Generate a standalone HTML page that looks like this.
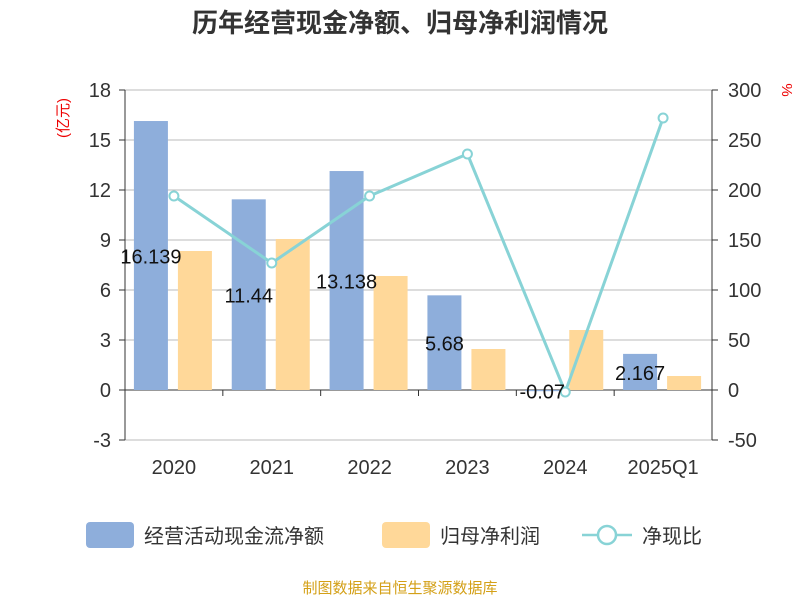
<!DOCTYPE html>
<html><head><meta charset="utf-8"><style>
body{margin:0;background:#fff;}
svg text{font-family:"Liberation Sans","Noto Sans CJK SC",sans-serif;}
</style></head><body>
<svg id="c" width="800" height="600" xmlns="http://www.w3.org/2000/svg">
<text x="400" y="32" text-anchor="middle" font-size="26" font-weight="bold" fill="#333">历年经营现金净额、归母净利润情况</text>
<text transform="translate(68,118) rotate(-90)" text-anchor="middle" font-size="15" fill="#e00">(亿元)</text>
<text transform="translate(782,90) rotate(90)" text-anchor="middle" font-size="15" fill="#e00">%</text>
<g id="grid"></g><g id="bars"></g><g id="line"></g><g id="labels"></g>
<g>
<rect x="86" y="522" width="48" height="26" rx="4" fill="#8eaedb"/>
<text x="144" y="543" font-size="20" fill="#333">经营活动现金流净额</text>
<rect x="382" y="522" width="48" height="26" rx="4" fill="#ffd899"/>
<text x="440" y="543" font-size="20" fill="#333">归母净利润</text>
<line x1="582" y1="535" x2="632" y2="535" stroke="#88d3d6" stroke-width="2.5"/>
<circle cx="607" cy="535" r="9" fill="#fff" stroke="#88d3d6" stroke-width="2.5"/>
<text x="642" y="543" font-size="20" fill="#333">净现比</text>
</g>
<text x="400" y="593" text-anchor="middle" font-size="15" fill="#d4a017">制图数据来自恒生聚源数据库</text>
</svg>
<script>
const categories=["2020","2021","2022","2023","2024","2025Q1"];
const cashFlow=[16.139,11.44,13.138,5.68,-0.07,2.167];
const cashLabels=["16.139","11.44","13.138","5.68","-0.07","2.167"];
const netProfit=[8.34,9.06,6.84,2.46,3.6,0.84];
const ratio=[194,127,194,236,-2,272];
const leftTicks=[-3,0,3,6,9,12,15,18];
const rightTicks=[-50,0,50,100,150,200,250,300];

const NS="http://www.w3.org/2000/svg";
const L=125,R=712,T=90,B=440;
const yL=v=>T+(18-v)*(B-T)/21;
const yR=v=>T+(300-v)*(B-T)/350;
const bw=(R-L)/categories.length;
const cx=i=>L+bw*(i+0.5);
function mk(tag,attrs,parent){const e=document.createElementNS(NS,tag);for(const k in attrs)e.setAttribute(k,attrs[k]);document.getElementById(parent).appendChild(e);return e;}
leftTicks.forEach(v=>{
  const g=mk('line',{x1:L,x2:R,y1:yL(v),y2:yL(v),stroke:v===0?'#333':'#bbb','stroke-width':1},'grid');
  
  
  const t=mk('text',{x:L-14,y:yL(v)+7,'text-anchor':'end','font-size':20,fill:'#333'},'grid');t.textContent=v;
  
  
  mk('line',{x1:L-6,x2:L,y1:yL(v),y2:yL(v),stroke:'#333'},'grid');
});
rightTicks.forEach(v=>{
  const t=mk('text',{x:R+16,y:yR(v)+7,'font-size':20,fill:'#333'},'grid');t.textContent=v;
  
  
  mk('line',{x1:R,x2:R+6,y1:yR(v),y2:yR(v),stroke:'#333'},'grid');
});
mk('line',{x1:L,x2:L,y1:T,y2:B,stroke:'#333'},'grid');
mk('line',{x1:R,x2:R,y1:T,y2:B,stroke:'#333'},'grid');
categories.forEach((c,i)=>{
  const t=mk('text',{x:cx(i),y:474,'text-anchor':'middle','font-size':20,fill:'#333'},'grid');t.textContent=c;
  
  
  if(i>0)mk('line',{x1:L+bw*i,x2:L+bw*i,y1:yL(0),y2:yL(0)+6,stroke:'#333'},'grid');
});
cashFlow.forEach((v,i)=>{
  const y0=yL(0),y1=yL(v);
  const b=mk('rect',{x:cx(i)-40,y:Math.min(y0,y1),width:34,height:Math.abs(y1-y0),fill:'#8eaedb'},'bars');
  
  
  const t=mk('text',{x:cx(i)-23,y:(y0+y1)/2+8,'text-anchor':'middle','font-size':20,fill:'#111'},'labels');t.textContent=cashLabels[i];
  
  
});
netProfit.forEach((v,i)=>{
  const y0=yL(0),y1=yL(v);
  const b=mk('rect',{x:cx(i)+4,y:Math.min(y0,y1),width:34,height:Math.abs(y1-y0),fill:'#ffd899'},'bars');
  
  
});
const pts=ratio.map((v,i)=>cx(i)+','+yR(v)).join(' ');
const pl=mk('polyline',{points:pts,fill:'none',stroke:'#88d3d6','stroke-width':3},'line');


ratio.forEach((v,i)=>{
  const p=mk('circle',{cx:cx(i),cy:yR(v),r:4.5,fill:'#fff',stroke:'#88d3d6','stroke-width':2},'line');
  
  
});
</script>
</body></html>
